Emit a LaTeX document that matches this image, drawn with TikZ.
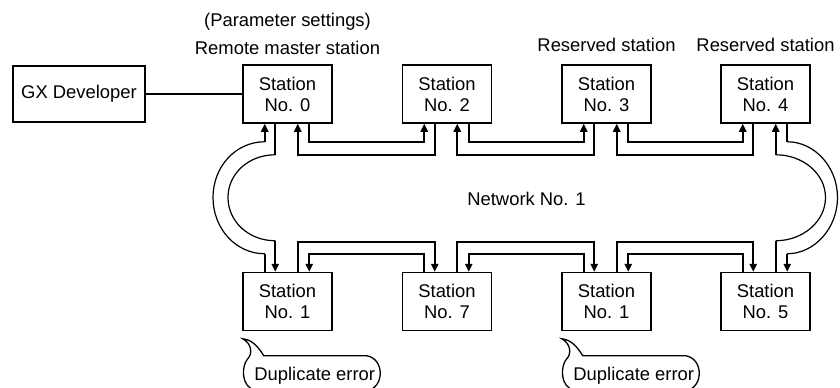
\documentclass[tikz,border=0pt]{standalone}
\usepackage{fontspec}
\setmainfont{Liberation Sans}
\usetikzlibrary{arrows.meta, calc}

\begin{document}
\begin{tikzpicture}[x=0.5pt, y=-0.5pt, font=\fontsize{9.2}{10.5}\selectfont,
  station/.style={draw, line width=0.75pt, minimum width=44.5pt, minimum height=29pt, align=center, inner sep=0pt},
  link/.style={line width=1pt},
  linkarr/.style={link, -{Triangle[length=4pt,width=3.6pt]}},
  tube/.style={line width=0.6pt},
  callout/.style={line width=0.65pt}]
  \useasboundingbox (0,0) rectangle (840,387);
  % stations
  \node[station] (s0)  at (287.5,94)  {Station\\No. 0};
  \node[station] (s2)  at (447,94)    {Station\\No. 2};
  \node[station] (s3)  at (606.5,94)  {Station\\No. 3};
  \node[station] (s4)  at (765.5,94)  {Station\\No. 4};
  \node[station] (s1)  at (287.5,301.5) {Station\\No. 1};
  \node[station] (s7)  at (447,301.5)   {Station\\No. 7};
  \node[station] (s1x) at (606.5,301.5) {Station\\No. 1};
  \node[station] (s5)  at (765.5,301.5) {Station\\No. 5};
  \node[station, minimum width=66pt, minimum height=28pt] (gx) at (79,94) {GX Developer};
  \draw[link] (gx.east) -- (gx.east -| s0.west);
  % labels
  \node[anchor=base] (param)  at (287.5,26) {(Parameter settings)};
  \node[anchor=base] (remote) at (287.5,54) {Remote master station};
  \node[anchor=base] (res3)   at (606.5,51) {Reserved station};
  \node[anchor=base] (res4)   at (765.5,51) {Reserved station};
  \node[anchor=base] (net)    at (526.5,205) {Network No. 1};
  % top row links
  \foreach \l/\r in {s0/s2, s2/s3, s3/s4} {
    \draw[linkarr] ($(\l.south west)+(67,0)$) -- ++(0,18) -| ($(\r.south west)+(22.5,0)$);
    \draw[linkarr] ($(\r.south west)+(33,0)$) -- ++(0,31) -| ($(\l.south west)+(55.5,0)$);
  }
  % bottom row links
  \foreach \l/\r in {s1/s7, s7/s1x, s1x/s5} {
    \draw[linkarr] ($(\l.north west)+(55.5,0)$) -- ++(0,-30) -| ($(\r.north west)+(33,0)$);
    \draw[linkarr] ($(\r.north west)+(22.5,0)$) -- ++(0,-18) -| ($(\l.north west)+(67,0)$);
  }
  % left bend
  \coordinate (lo) at (213,197.5);
  \coordinate (li) at (228,197.5);
  \coordinate (lob) at ($(s1.north west)+(22.5,-18)$);
  \coordinate (lot) at ($(s0.south west)+(22.5,18)$);
  \coordinate (lit) at ($(s0.south west)+(33,31)$);
  \coordinate (lib) at ($(s1.north west)+(33,-31)$);
  \draw[link] ($(s1.north west)+(22.5,0)$) -- (lob);
  \draw[tube] (lob) .. controls +(-29,0) and +(0,31) .. (lo) .. controls +(0,-31) and +(-29,0) .. (lot);
  \draw[linkarr] (lot) -- ($(s0.south west)+(22.5,0)$);
  \draw[link] ($(s0.south west)+(33,0)$) -- (lit);
  \draw[tube] (lit) .. controls +(-26.5,0) and +(0,-24) .. (li) .. controls +(0,24) and +(-26.5,0) .. (lib);
  \draw[linkarr] (lib) -- ($(s1.north west)+(33,0)$);
  % right bend
  \coordinate (ro) at (837.5,197.5);
  \coordinate (ri) at (825.5,197.5);
  \coordinate (rot) at ($(s4.south west)+(67,18)$);
  \coordinate (rob) at ($(s5.north west)+(67,-18)$);
  \coordinate (rib) at ($(s5.north west)+(55.5,-31)$);
  \coordinate (rit) at ($(s4.south west)+(55.5,31)$);
  \draw[link] ($(s4.south west)+(67,0)$) -- (rot);
  \draw[tube] (rot) .. controls +(27,0) and +(0,-31) .. (ro) .. controls +(0,31) and +(27,0) .. (rob);
  \draw[linkarr] (rob) -- ($(s5.north west)+(67,0)$);
  \draw[link] ($(s5.north west)+(55.5,0)$) -- (rib);
  \draw[tube] (rib) .. controls +(27,0) and +(0,24) .. (ri) .. controls +(0,-24) and +(27,0) .. (rit);
  \draw[linkarr] (rit) -- ($(s4.south west)+(55.5,0)$);
  % duplicate error callouts
  \foreach \s/\n in {s1/err1, s1x/err2} {
    \draw[callout, shift={($(\s.south west)+(0.5,7.5)$)}] (0,0) .. controls (10,1) and (16,9) .. (21,17)
      -- (124,17) .. controls (142,20) and (142,49) .. (124,52) -- (14,52)
      .. controls (-3,49) and (-1,26) .. (5,20) .. controls (10,15) and (9,5) .. (0,0) -- cycle;
    \node[anchor=base] (\n) at ($(\s.south west)+(72.5,49)$) {Duplicate error};
  }
\end{tikzpicture}
\end{document}
